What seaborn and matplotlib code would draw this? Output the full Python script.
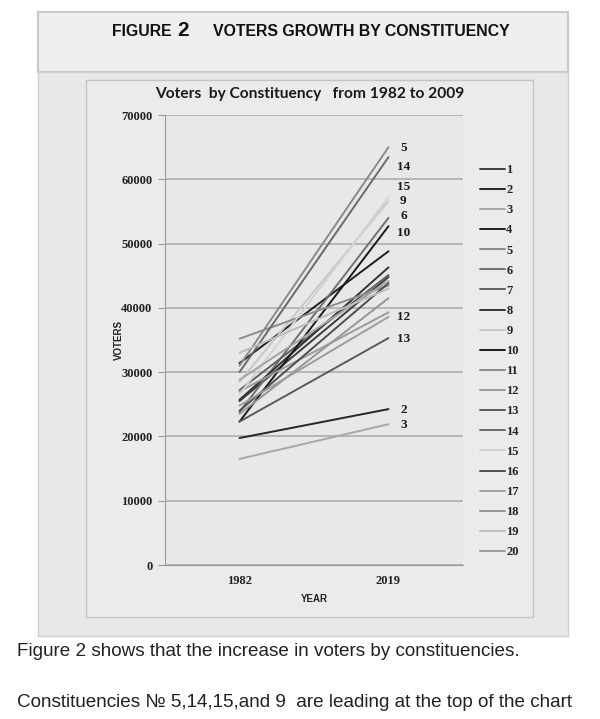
import matplotlib
matplotlib.use("Agg")
import matplotlib.pyplot as plt
from matplotlib.patches import Rectangle
import pandas as pd
import seaborn as sns

# data
years = ["1982", "2019"]
constituencies = [str(i) for i in range(1, 21)]
voters_1982 = [25500, 19750, 16500, 31400, 31000, 23800, 27200, 25700, 28500, 22300,
               35200, 27000, 22300, 30000, 26500, 24000, 28800, 23500, 33000, 24800]
voters_2019 = [44800, 24250, 21900, 48800, 65000, 54000, 45100, 46300, 56600, 52700,
               43500, 39300, 35300, 63450, 57200, 43850, 44200, 41500, 43000, 38600]
line_colors = ["#3c3c3c", "#262626", "#a8a8a8", "#202020", "#8a8a8a", "#707070", "#606060",
               "#333333", "#c8c8c8", "#1a1a1a", "#8c8c8c", "#9a9a9a", "#5a5a5a", "#6a6a6a",
               "#d2d2d2", "#4e4e4e", "#a4a4a4", "#969696", "#bcbcbc", "#9c9c9c"]
end_labels = ["5", "14", "15", "9", "6", "10", "12", "13", "2", "3"]
end_label_y = [64850, 61900, 58800, 56600, 54300, 51600, 38600, 35150, 24100, 21800]

rows = []
for c, a, b in zip(constituencies, voters_1982, voters_2019):
    rows.append({"constituency": c, "pos": 0, "voters": a})
    rows.append({"constituency": c, "pos": 1, "voters": b})
df = pd.DataFrame(rows)

sns.set_style("white")
W, H = 600, 719
fig = plt.figure(figsize=(W / 100, H / 100), dpi=100)
fig.patch.set_facecolor("white")


def box(x0, y0, x1, y1, **kw):
    fig.patches.append(Rectangle((x0 / W, 1 - y1 / H), (x1 - x0) / W, (y1 - y0) / H,
                                 transform=fig.transFigure, figure=fig, zorder=-5, **kw))


# header band, chart background, inner chart box
box(38, 12, 568, 72, facecolor="#efefef", edgecolor="#c9c9c9", linewidth=1.5)
box(38, 72, 568, 636, facecolor="#e8e8e8", edgecolor="#d0d0d0", linewidth=1)
box(86, 80, 533, 617, facecolor="#ebebeb", edgecolor="#c4c4c4", linewidth=1)

fig.text(112 / W, 1 - 31 / H, "FIGURE", fontsize=11.3, fontweight="bold",
         family="Liberation Sans", va="center", ha="left", color="#111111")
fig.text(177 / W, 1 - 30 / H, "2", fontsize=15, fontweight="bold",
         family="Liberation Sans", va="center", ha="left", color="#111111")
fig.text(213 / W, 1 - 31 / H, "VOTERS GROWTH BY CONSTITUENCY", fontsize=11.4, fontweight="bold",
         family="Liberation Sans", va="center", ha="left", color="#111111")

ax = fig.add_axes([165 / W, 1 - 565 / H, (463 - 165) / W, (565 - 115) / H])
ax.set_facecolor("#e8e8e8")
sns.lineplot(data=df, x="pos", y="voters", hue="constituency",
             palette=dict(zip(constituencies, line_colors)), linewidth=1.4, ax=ax)

ax.set_xlim(-0.5, 1.5)
ax.set_ylim(0, 70000)
ax.set_xticks([0, 1])
ax.set_xticklabels(years, fontsize=9, fontweight="bold", family="Liberation Serif", color="#222222")
ax.set_yticks(range(0, 70001, 10000))
ax.set_yticklabels([str(v) for v in range(0, 70001, 10000)], fontsize=9, fontweight="bold",
                   family="Liberation Serif", color="#222222")
ax.yaxis.grid(True, color="#a8a8a8", linewidth=1.1)
ax.set_axisbelow(True)
for s in ["top", "right"]:
    ax.spines[s].set_visible(False)
ax.spines["left"].set_color("#9a9a9a")
ax.spines["bottom"].set_color("#9a9a9a")
ax.tick_params(axis="y", length=5, color="#9a9a9a", pad=4, left=True)
ax.tick_params(axis="x", length=0, pad=7)
ax.set_xlabel("YEAR", fontsize=7, fontweight="bold", family="Liberation Sans", color="#222222", labelpad=5)
ax.set_ylabel("VOTERS", fontsize=7, fontweight="bold", family="Liberation Sans", color="#222222", labelpad=-2)

for lab, y in zip(end_labels, end_label_y):
    ax.text(1.1, y, lab, fontsize=9.5, fontweight="bold", family="Liberation Serif",
            ha="center", va="center", color="#1a1a1a")

ax.set_title("Voters  by Constituency   from 1982 to 2009", fontsize=11.2, fontweight="bold",
             family="Lato", color="#1a1a1a", pad=12, x=(310 - 165) / (463 - 165))

handles, labels = ax.get_legend_handles_labels()
leg = ax.legend(handles, labels, loc="upper left", bbox_to_anchor=(480 / W, 1 - 164 / H),
                bbox_transform=fig.transFigure, frameon=False, handlelength=2.0,
                handletextpad=0.1, labelspacing=0.65, borderaxespad=0, borderpad=0,
                prop={"family": "Liberation Serif", "weight": "bold", "size": 9})
for t in leg.get_texts():
    t.set_color("#222222")

fig.text(17 / W, 1 - 652 / H, "Figure 2 shows that the increase in voters by constituencies.",
         fontsize=13.6, family="Liberation Sans", color="#222222", va="center", ha="left")
fig.text(17 / W, 1 - 702 / H, "Constituencies \u2116 5,14,15,and 9  are leading at the top of the chart",
         fontsize=13.6, family="Liberation Sans", color="#222222", va="center", ha="left")

fig.savefig("out.png", dpi=100)
